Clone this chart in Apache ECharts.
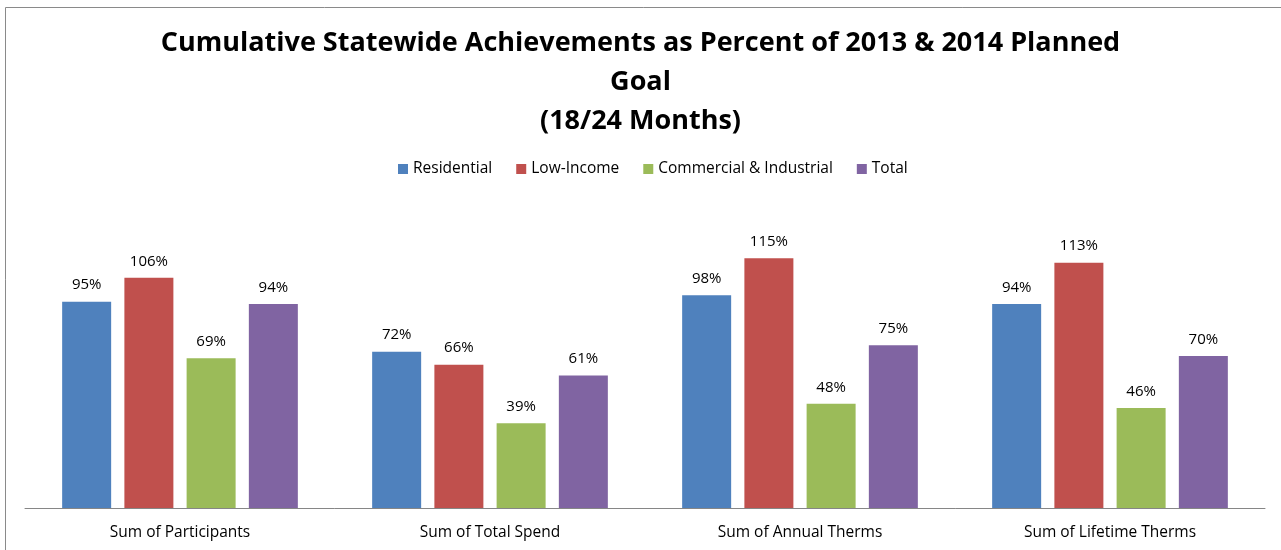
<!DOCTYPE html>
<html>
<head>
<meta charset="utf-8">
<script src="https://cdn.jsdelivr.net/npm/echarts@6/dist/echarts.min.js"></script>
<style>
  html, body { margin: 0; padding: 0; background: #fff; }
  #chart { width: 1281px; height: 550px; }
</style>
</head>
<body>
<div id="chart"></div>
<script>
// Program metrics and achievement percentages by sector
const categories = ['Sum of Participants', 'Sum of Total Spend', 'Sum of Annual Therms', 'Sum of Lifetime Therms'];
const residential = [95, 72, 98, 94];
const lowIncome = [106, 66, 115, 113];
const commercialIndustrial = [69, 39, 48, 46];
const total = [94, 61, 75, 70];
const seriesNames = ['Residential', 'Low-Income', 'Commercial & Industrial', 'Total'];
const seriesColors = ['#4f81bd', '#c0504d', '#9bbb59', '#8064a2'];

const FONT = 'Open Sans, Noto Sans, sans-serif';
const chart = echarts.init(document.getElementById('chart'));

const seriesData = [residential, lowIncome, commercialIndustrial, total];

chart.setOption({
  animation: false,
  backgroundColor: '#fff',
  title: {
    text: 'Cumulative Statewide Achievements as Percent of 2013 & 2014 Planned\nGoal\n(18/24 Months)',
    left: 'center',
    top: 19,
    textStyle: { fontFamily: FONT, fontWeight: 'bold', fontSize: 27, lineHeight: 39, color: '#000' }
  },
  legend: {
    top: 156,
    left: 393,
    itemWidth: 10,
    itemHeight: 10,
    itemGap: 24,
    icon: 'rect',
    textStyle: { fontFamily: FONT, fontSize: 15.5, color: '#000' },
    data: seriesNames
  },
  grid: { left: 25, right: 16, top: 204, bottom: 42 },
  xAxis: {
    type: 'category',
    data: categories,
    axisLine: { lineStyle: { color: '#868686', width: 1 } },
    axisTick: { show: false },
    axisLabel: { fontFamily: FONT, fontSize: 15.5, color: '#000', margin: 17 }
  },
  yAxis: {
    type: 'value',
    min: 0,
    max: 140,
    show: false,
    splitLine: { show: false }
  },
  series: seriesData.map((arr, i) => ({
    name: seriesNames[i],
    type: 'bar',
    data: arr,
    barWidth: 49,
    barGap: '27%',
    itemStyle: { color: seriesColors[i] },
    label: {
      show: true,
      position: 'top',
      distance: 9,
      formatter: '{c}%',
      fontFamily: FONT,
      fontSize: 15,
      color: '#000'
    }
  })),
  graphic: [{
    type: 'rect',
    shape: { x: 5.5, y: 7.5, width: 1300, height: 600 },
    style: { fill: null, stroke: '#8a8a8a', lineWidth: 1 },
    silent: true,
    z: -1
  }]
});
</script>
</body>
</html>
